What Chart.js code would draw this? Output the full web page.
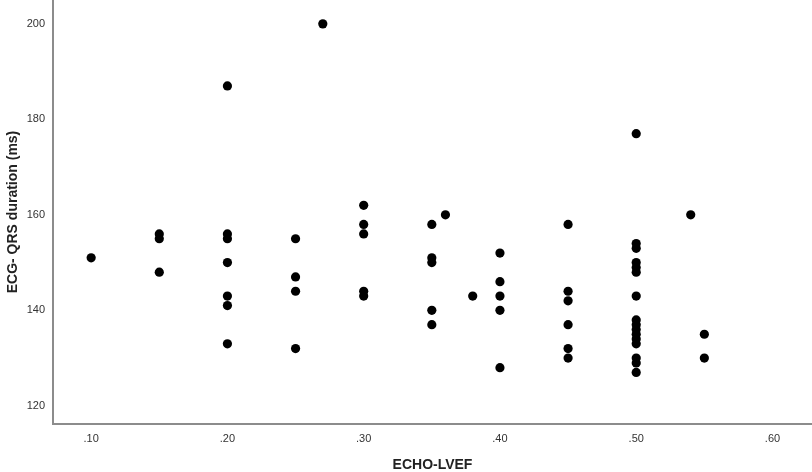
<!DOCTYPE html>
<html>
<head>
<meta charset="utf-8">
<script src="https://cdn.jsdelivr.net/npm/chart.js@4/dist/chart.umd.min.js"></script>
<style>
html,body{margin:0;padding:0;background:#fff;}
#wrap{width:812px;height:472px;position:relative;}
</style>
</head>
<body>
<div id="wrap"><canvas id="c" width="812" height="472"></canvas></div>
<script>
// Data
const echoLvef = [
  0.10,
  0.15, 0.15, 0.15,
  0.20, 0.20, 0.20, 0.20, 0.20, 0.20, 0.20,
  0.25, 0.25, 0.25, 0.25,
  0.27,
  0.30, 0.30, 0.30, 0.30, 0.30,
  0.35, 0.35, 0.35, 0.35, 0.35,
  0.36,
  0.38,
  0.40, 0.40, 0.40, 0.40, 0.40,
  0.45, 0.45, 0.45, 0.45, 0.45, 0.45,
  0.50, 0.50, 0.50, 0.50, 0.50, 0.50, 0.50, 0.50, 0.50, 0.50, 0.50, 0.50, 0.50, 0.50, 0.50, 0.50,
  0.54,
  0.55, 0.55
];
const qrsDuration = [
  151,
  156, 155, 148,
  187, 156, 155, 150, 143, 141, 133,
  155, 147, 144, 132,
  200,
  162, 158, 156, 144, 143,
  158, 151, 150, 140, 137,
  160,
  143,
  152, 146, 143, 140, 128,
  158, 144, 142, 137, 132, 130,
  177, 154, 153, 150, 149, 148, 143, 138, 137, 136, 135, 134, 133, 130, 129, 127,
  160,
  135, 130
];
const xTickValues = [0.10, 0.20, 0.30, 0.40, 0.50, 0.60];
const xTickLabels = [".10", ".20", ".30", ".40", ".50", ".60"];
const yTickValues = [120, 140, 160, 180, 200];
const xTitle = "ECHO-LVEF";
const yTitle = "ECG- QRS duration (ms)";

const points = echoLvef.map((x, i) => ({x: x, y: qrsDuration[i]}));

new Chart(document.getElementById('c'), {
  type: 'scatter',
  data: {
    datasets: [{
      data: points,
      backgroundColor: '#000',
      borderColor: '#000',
      pointRadius: 4.6,
      pointBorderWidth: 0,
      pointHoverRadius: 4.6
    }]
  },
  options: {
    responsive: false,
    animation: false,
    layout: {autoPadding: false, padding: 0},
    plugins: {legend: {display: false}, tooltip: {enabled: false}},
    scales: {
      x: {
        type: 'linear',
        min: 0.072,
        max: 0.629,
        afterBuildTicks: (s) => { s.ticks = xTickValues.map(v => ({value: v})); },
        afterFit: (s) => { s.height = 48; s.paddingLeft = 0; s.paddingRight = 0; },
        grid: {display: false, drawTicks: false},
        border: {display: true, color: '#8c8c8c', width: 2},
        ticks: {
          padding: 8,
          color: '#333',
          font: {family: 'Liberation Sans, Arial, sans-serif', size: 11},
          maxRotation: 0,
          callback: (v) => { const i = xTickValues.findIndex(t => Math.abs(t - v) < 1e-9); return i >= 0 ? xTickLabels[i] : ''; }
        },
        title: {
          display: true,
          text: xTitle,
          color: '#222',
          font: {family: 'Liberation Sans, Arial, sans-serif', size: 14, weight: 'bold', lineHeight: 1},
          padding: {top: 0, bottom: 0}
        }
      },
      y: {
        type: 'linear',
        min: 116.2,
        max: 205,
        afterBuildTicks: (s) => { s.ticks = yTickValues.map(v => ({value: v})); },
        afterFit: (s) => { s.width = 53; s.paddingTop = 0; s.paddingBottom = 0; },
        grid: {display: false, drawTicks: false},
        border: {display: true, color: '#8c8c8c', width: 2},
        ticks: {
          padding: 8,
          color: '#333',
          font: {family: 'Liberation Sans, Arial, sans-serif', size: 11}
        },
        title: {
          display: true,
          text: yTitle,
          color: '#222',
          font: {family: 'Liberation Sans, Arial, sans-serif', size: 14, weight: 'bold', lineHeight: 1.2},
          padding: {top: 5, bottom: 0}
        }
      }
    }
  }
});
</script>
</body>
</html>
